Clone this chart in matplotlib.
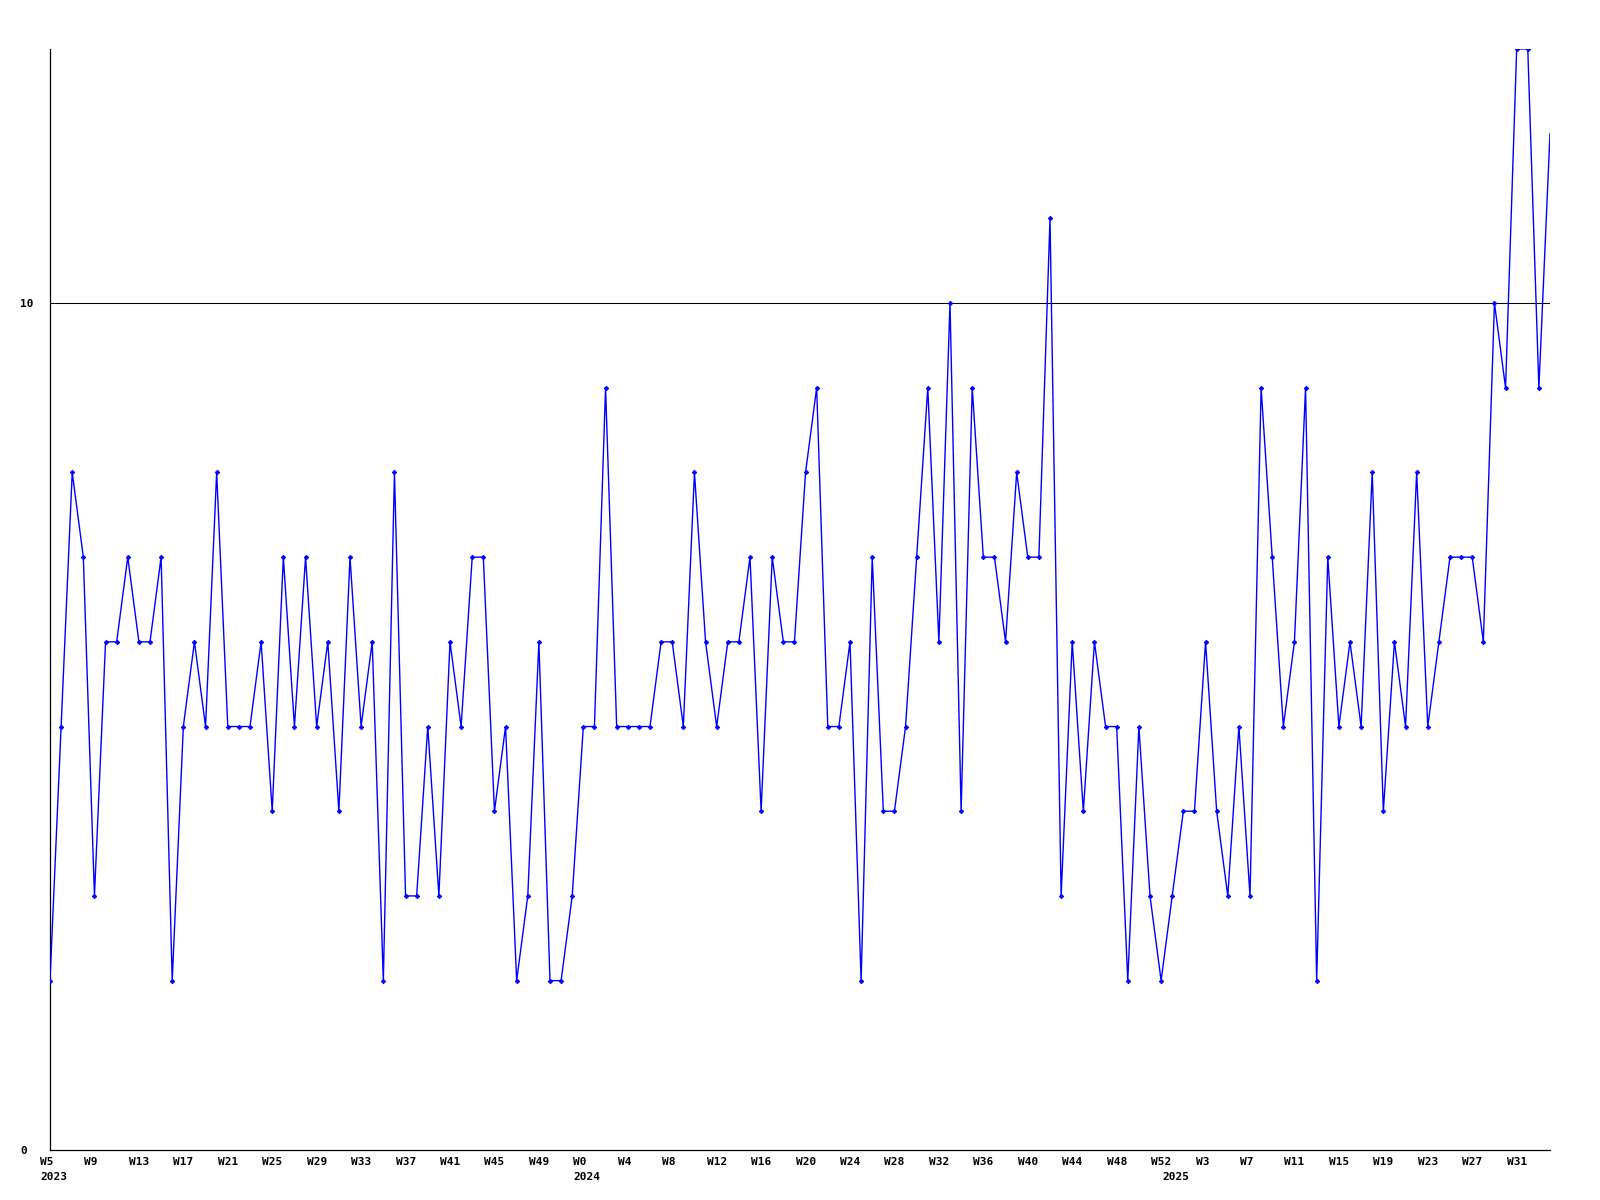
import matplotlib
matplotlib.use("Agg")
import matplotlib.pyplot as plt
import matplotlib.transforms as mtransforms
import numpy as np

# weekly values
weeks_2023 = list(range(5, 53))
values_2023 = [2, 5, 8, 7, 3, 6, 6, 7, 6, 6,
               7, 2, 5, 6, 5, 8, 5, 5, 5, 6,
               4, 7, 5, 7, 5, 6, 4, 7, 5, 6,
               2, 8, 3, 3, 5, 3, 6, 5, 7, 7,
               4, 5, 2, 3, 6, 2, 2, 3]
weeks_2024 = list(range(0, 53))
values_2024 = [5, 5, 9, 5, 5, 5, 5, 6, 6, 5,
               8, 6, 5, 6, 6, 7, 4, 7, 6, 6,
               8, 9, 5, 5, 6, 2, 7, 4, 4, 5,
               7, 9, 6, 10, 4, 9, 7, 7, 6, 8,
               7, 7, 11, 3, 6, 4, 6, 5, 5, 2,
               5, 3, 2]
weeks_2025 = list(range(0, 35))
values_2025 = [3, 4, 4, 6, 4, 3, 5, 3, 9, 7,
               5, 6, 9, 2, 7, 5, 6, 5, 8, 4,
               6, 5, 8, 5, 6, 7, 7, 7, 6, 10,
               9, 13, 13, 9, 12]
years = ["2023", "2024", "2025"]

weeks = weeks_2023 + weeks_2024 + weeks_2025
values = values_2023 + values_2024 + values_2025
year_starts = [0, len(weeks_2023), len(weeks_2023) + len(weeks_2024)]
x = np.arange(len(values))

font = dict(family="DejaVu Sans Mono", weight="bold", size=8)

fig = plt.figure(figsize=(16, 12), dpi=100)
ax = fig.add_axes([50 / 1600, 50 / 1200, 1500 / 1600, 1101 / 1200])

ax.axhline(10, color="black", linewidth=0.75, zorder=1)
ax.plot(x, values, color="#0000ff", linewidth=1.0, marker="D", markersize=2.3,
        markeredgewidth=0.6, markevery=slice(0, len(values) - 1), zorder=3)

ax.set_xlim(0, len(values) - 1)
ax.set_ylim(0, 13)

for s in ["top", "right"]:
    ax.spines[s].set_visible(False)
for s in ["left", "bottom"]:
    ax.spines[s].set_linewidth(0.9)
    ax.spines[s].set_color("black")

ax.set_yticks([0, 10])
ax.set_yticklabels(["0", "10"], **font)
ax.tick_params(axis="y", length=0, pad=21.6)
for lab in ax.get_yticklabels():
    lab.set_horizontalalignment("left")

tick_idx = x[::4]
ax.set_xticks(tick_idx)
ax.set_xticklabels(["W%d" % weeks[i] for i in tick_idx], **font)
ax.tick_params(axis="x", length=0, pad=5)
offset = mtransforms.ScaledTranslation(-10 / 100, 0, fig.dpi_scale_trans)
for lab in ax.get_xticklabels():
    lab.set_horizontalalignment("left")
    lab.set_transform(lab.get_transform() + offset)

trans = mtransforms.blended_transform_factory(ax.transData, ax.transAxes) + offset
for i, yr in zip(year_starts, years):
    ax.text(i, -22 / 1101, yr, transform=trans, ha="left", va="top", **font)

fig.savefig("out.png", dpi=100, facecolor="white")
